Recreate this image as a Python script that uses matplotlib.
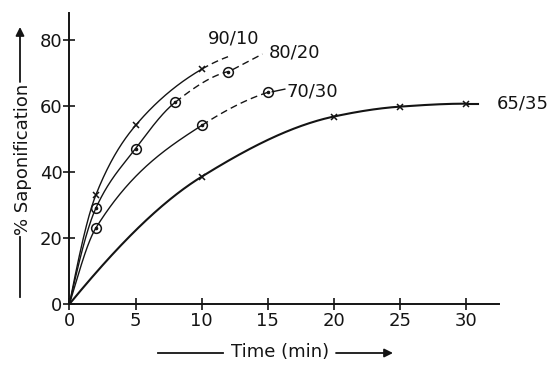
import numpy as np
import matplotlib
matplotlib.use("Agg")
import matplotlib.pyplot as plt

# ---- data ----
t_9010 = [0, 2, 5, 10, 12]
y_9010 = [0, 33.0, 54.0, 71.0, 74.8]
solid_9010 = 10
mark_9010 = [2, 5, 10]

t_8020 = [0, 2, 5, 8, 12]
y_8020 = [0, 29.0, 47.0, 61.0, 70.3]
solid_8020 = 8
mark_8020 = [2, 5, 8, 12]

t_7030 = [0, 2, 10, 15]
y_7030 = [0, 23.0, 54.0, 64.0]
solid_7030 = 10
mark_7030 = [2, 10, 15]

t_6535 = [0, 10, 20, 25, 30]
y_6535 = [0, 38.5, 56.7, 59.7, 60.6]
mark_6535 = [10, 20, 25, 30]

labels = ["90/10", "80/20", "70/30", "65/35"]
x_ticks = [0, 5, 10, 15, 20, 25, 30]
y_ticks = [0, 20, 40, 60, 80]

INK = "#141414"


def mono_cubic(x, y, xn):
    x = np.asarray(x, float)
    y = np.asarray(y, float)
    h = np.diff(x)
    d = np.diff(y) / h
    m = np.zeros_like(y)
    # three-point end slopes (as in PCHIP)
    m[0] = ((2 * h[0] + h[1]) * d[0] - h[0] * d[1]) / (h[0] + h[1])
    m[-1] = ((2 * h[-1] + h[-2]) * d[-1] - h[-1] * d[-2]) / (h[-1] + h[-2])
    if m[-1] * d[-1] <= 0:
        m[-1] = 0
    for i in range(1, len(x) - 1):
        if d[i - 1] * d[i] <= 0:
            m[i] = 0
        else:
            w1 = 2 * h[i] + h[i - 1]
            w2 = h[i] + 2 * h[i - 1]
            m[i] = (w1 + w2) / (w1 / d[i - 1] + w2 / d[i])
    xn = np.asarray(xn, float)
    idx = np.clip(np.searchsorted(x, xn) - 1, 0, len(x) - 2)
    hh = h[idx]
    s = (xn - x[idx]) / hh
    h00 = 2 * s**3 - 3 * s**2 + 1
    h10 = s**3 - 2 * s**2 + s
    h01 = -2 * s**3 + 3 * s**2
    h11 = s**3 - s**2
    return h00 * y[idx] + h10 * hh * m[idx] + h01 * y[idx + 1] + h11 * hh * m[idx + 1]


fig = plt.figure(figsize=(5.51, 3.69), dpi=100)
ax = fig.add_axes([0.126, 0.176, 0.7795, 0.7886])
ax.set_xlim(0, 32.5)
ax.set_ylim(0, 88)

for s in ["top", "right"]:
    ax.spines[s].set_visible(False)
for s in ["left", "bottom"]:
    ax.spines[s].set_linewidth(1.4)
    ax.spines[s].set_color(INK)

ax.set_xticks(x_ticks)
ax.set_yticks(y_ticks)
ax.tick_params(axis="both", direction="inout", length=8, width=1.2, color=INK,
               labelsize=13, labelcolor=INK)
ax.tick_params(axis="y", pad=1)
ax.tick_params(axis="x", pad=2)

dash = (0, (5, 3))


def draw(t, y, solid_end, marks, marker, lw=1.0):
    tt = np.linspace(t[0], t[-1], 300)
    yy = mono_cubic(t, y, tt)
    if solid_end is None:
        ax.plot(tt, yy, color=INK, lw=lw, solid_capstyle="butt")
    else:
        a = tt <= solid_end
        b = tt >= solid_end - 1e-9
        ax.plot(tt[a], yy[a], color=INK, lw=lw)
        ax.plot(tt[b], yy[b], color=INK, lw=lw, linestyle=dash)
    my = mono_cubic(t, y, marks)
    if marker == "x":
        ax.plot(marks, my, linestyle="none", marker="x", ms=5, mew=1.1, color=INK)
    else:
        ax.plot(marks, my, linestyle="none", marker="o", ms=7, mew=1.1,
                mfc="none", mec=INK)
        ax.plot(marks, my, linestyle="none", marker="o", ms=1.6, color=INK)


draw(t_9010, y_9010, solid_9010, mark_9010, "x")
draw(t_8020, y_8020, solid_8020, mark_8020, "o")
draw(t_7030, y_7030, solid_7030, mark_7030, "o")
draw(t_6535, y_6535, None, mark_6535, "x", lw=1.5)
# flat tail of 65/35 beyond last point
ax.plot([t_6535[-1], t_6535[-1] + 0.9], [y_6535[-1], y_6535[-1]], color=INK, lw=1.5)

# leader lines to labels
ax.plot([t_8020[-1] + 0.35, 14.6], [y_8020[-1] + 0.6, 75.6], color=INK, lw=1.0, linestyle=dash)
ax.plot([t_7030[-1] + 0.35, 16.3], [y_7030[-1] + 0.2, 65.0], color=INK, lw=1.0)

ax.text(12.4, 80.4, labels[0], fontsize=13, color=INK, ha="center", va="center")
ax.text(17.06, 76.2, labels[1], fontsize=13, color=INK, ha="center", va="center")
ax.text(18.35, 64.4, labels[2], fontsize=13, color=INK, ha="center", va="center")
ax.text(32.3, 60.5, labels[3], fontsize=13, color=INK, ha="left", va="center",
        clip_on=False)

# axis titles with arrow lines (figure coords in pixels)
W, H = 551, 369


def fx(p):
    return p / W


def fy(p):
    return 1 - p / H


fig.text(fx(280), fy(352), "Time (min)", fontsize=13, color=INK, ha="center", va="center")
fig.add_artist(plt.Line2D([fx(158), fx(223)], [fy(353), fy(353)], color=INK, lw=1.3))
fig.add_artist(matplotlib.patches.FancyArrowPatch(
    (fx(336), fy(353)), (fx(393), fy(353)), transform=fig.transFigure,
    arrowstyle="-|>,head_length=5,head_width=2.5", color=INK, lw=1.3,
    shrinkA=0, shrinkB=0))

fig.text(fx(23), fy(159), "% Saponification", fontsize=13, color=INK, ha="center",
         va="center", rotation=90)
fig.add_artist(plt.Line2D([fx(20), fx(20)], [fy(297), fy(237)], color=INK, lw=1.3))
fig.add_artist(matplotlib.patches.FancyArrowPatch(
    (fx(20), fy(82)), (fx(20), fy(27)), transform=fig.transFigure,
    arrowstyle="-|>,head_length=5,head_width=2.5", color=INK, lw=1.3,
    shrinkA=0, shrinkB=0))

fig.savefig("out.png", dpi=100)
